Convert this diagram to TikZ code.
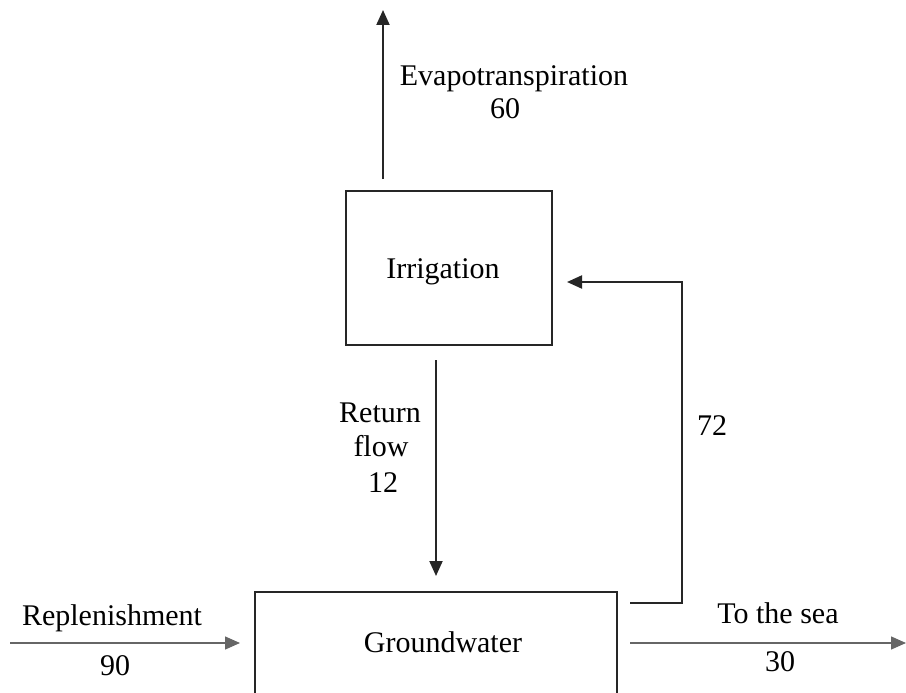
\documentclass[tikz,border=0pt]{standalone}
\usepackage{fontspec}
\setmainfont{Liberation Serif}
\usetikzlibrary{arrows.meta}
\tikzset{
  boxnode/.style={draw=black!85, line width=2pt, rectangle, inner sep=0pt},
  lbl/.style={anchor=base, inner sep=0pt, font=\fontsize{30}{36}\selectfont},
  arr/.style={draw=black!85, line width=2pt, -{Triangle[length=15pt,width=13pt]}},
  thinarr/.style={draw=black!60, line width=1.3pt, -{Triangle[length=15pt,width=13pt]}},
}
\begin{document}
\begin{tikzpicture}[x=1pt,y=-1pt]
\useasboundingbox (0,0) rectangle (906,693);
\clip (0,0) rectangle (906,693);
\fill[white] (0,0) rectangle (906,693);
% boxes
\node[boxnode, minimum width=206pt, minimum height=154pt] (irr) at (449,268) {};
\node[boxnode, minimum width=362pt, minimum height=168pt] (gw) at (436,676) {};
% labels
\node[lbl] (irrtext) at (443,278) {Irrigation};
\node[lbl] (gwtext) at (443,652) {Groundwater};
\node[lbl] (evtext) at (514,86) {Evapotranspiration};
\node[lbl] (evnum) at (505,118) {60};
\node[lbl] (ret1) at (380,422) {Return};
\node[lbl] (ret2) at (381,456) {flow};
\node[lbl] (ret3) at (383,492) {12};
\node[lbl] (pump) at (712,435) {72};
\node[lbl] (reptext) at (112,625) {Replenishment};
\node[lbl] (repnum) at (115,675) {90};
\node[lbl] (seatext) at (778,623) {To the sea};
\node[lbl] (seanum) at (780,671) {30};
% coordinates
\coordinate (evtop) at (383,10);
\coordinate (rx) at (436,0);
\coordinate (k1) at (682,603);
\coordinate (k2) at (682,282);
\coordinate (rs) at (10,643);
\coordinate (se) at (906,643);
% connectors
\draw[arr, shorten <=11pt] (irr.north -| evtop) -- (evtop);
\draw[arr, shorten <=14pt, shorten >=15pt] (irr.south -| rx) -- (gw.north -| rx);
\draw[arr, shorten <=12pt, shorten >=14pt] (gw.east |- k1) -- (k1) -- (k2) -- (irr.east |- k2);
\draw[thinarr, shorten >=14pt] (rs) -- (gw.west |- rs);
\draw[thinarr, shorten <=12pt] (gw.east |- se) -- (se);
\end{tikzpicture}
\end{document}
